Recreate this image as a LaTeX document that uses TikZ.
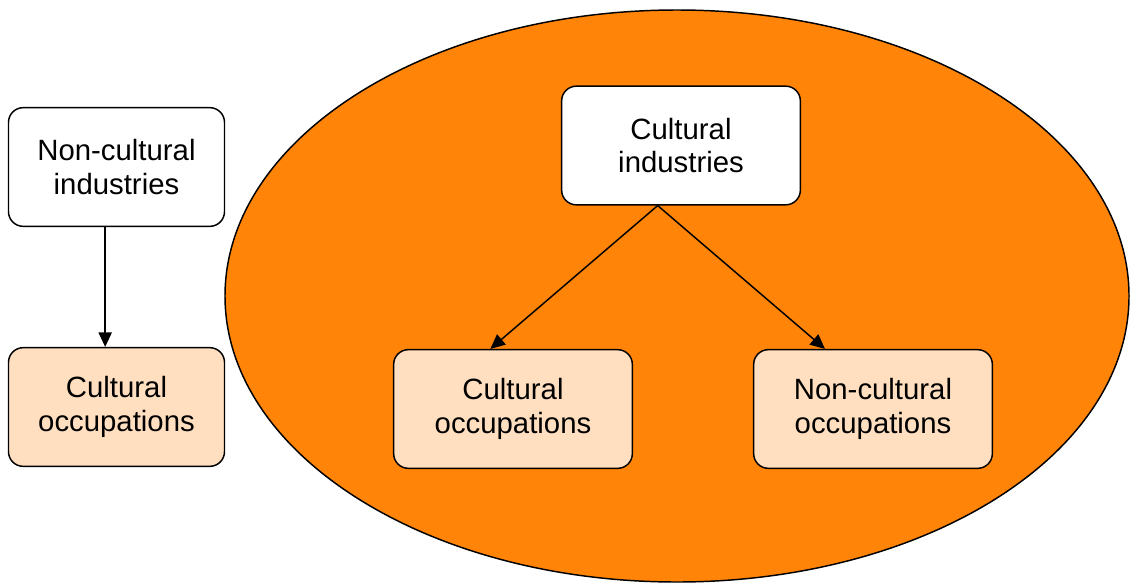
\documentclass[tikz,border=0pt]{standalone}
\usepackage{fontspec}
\setmainfont{Liberation Sans}
\usepackage{tikz}
\usetikzlibrary{arrows.meta}
\definecolor{bigorange}{HTML}{FF8408}
\definecolor{peach}{HTML}{FFDFC0}

\begin{document}
\begin{tikzpicture}[x=0.75pt,y=-0.75pt,
    box/.style={draw,line width=1.1pt,rounded corners=11pt,fill=white,
      minimum width=162pt,minimum height=89pt,align=center,font=\fontsize{22}{25}\selectfont},
    occbox/.style={box,fill=peach},
    link/.style={line width=1.1pt,-{Triangle[length=11pt,width=10pt]}}]
  \useasboundingbox (0,0) rectangle (1130,582);
  % the big set of cultural industries
  \draw[fill=bigorange,line width=1.1pt] (677,296) ellipse [x radius=452, y radius=286];
  \node (nci) at (116.5,167) [box] {Non-cultural\\industries};
  \node (occl) at (116.5,407) [occbox] {Cultural\\occupations};
  \node (ci) at (681,145.5) [box,minimum width=179pt] {Cultural\\industries};
  \node (occm) at (513,409) [occbox,minimum width=179pt] {Cultural\\occupations};
  \node (nocc) at (873,409) [occbox,minimum width=179pt] {Non-cultural\\occupations};
  \draw[link] ([xshift=-8.5pt]nci.south) -- ([xshift=-8.5pt]occl.north);
  \draw[link] ([xshift=-17.5pt]ci.south) -- ([xshift=-17pt]occm.north);
  \draw[link] ([xshift=-17.5pt]ci.south) -- ([xshift=-36pt]nocc.north);
\end{tikzpicture}
\end{document}
